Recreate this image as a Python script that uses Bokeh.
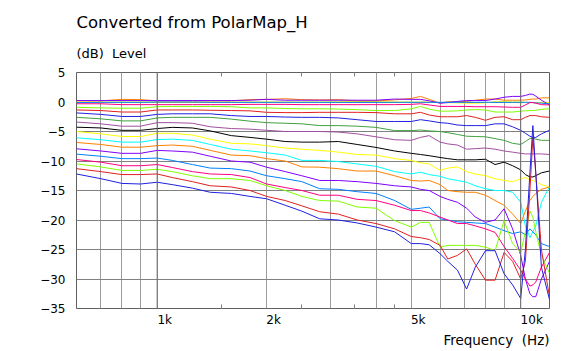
from bokeh.plotting import figure
from bokeh.models import FixedTicker, Span, LogAxis, Title
from bokeh.embed import file_html
from bokeh.resources import INLINE

# ---------------- data ----------------
freq_hz = [600, 700, 800, 900, 1000, 1100, 1250, 1400, 1600, 1800, 2000, 2250, 2500,
           2800, 3150, 3550, 4000, 4500, 5000, 5300, 5600, 6000, 6300, 6700, 7100, 7500,
           8000, 8500, 9000, 9500, 10000, 10300, 10600, 10800, 11000, 11400, 12000]

yellow_top = [0.0, 0.0, 0.0, 0.0, 0.0, 0.0, 0.0, 0.0, 0.0, 0.0, 0.0, 0.0, 0.0, 0.0, 0.05, 0.1, 0.05, 0.0, 0.0, 0.0, 0.0,
              -0.1, -0.1, -0.15, -0.2, -0.2, -0.15, 0.05, 0.05, 0.0, 0.0, -0.1, -0.1, -0.1, -0.1, -0.1, -0.1]
orange_a = [0.2, 0.2, 0.45, 0.4, 0.2, 0.2, 0.2, 0.2, 0.2, 0.4, 0.45, 0.55, 0.4, 0.35, 0.4, 0.2, 0.2, 0.35, 0.6, 0.95,
            0.45, -0.2, 0.05, 0.05, 0.1, 0.3, 0.5, 0.5, 0.3, 0.3, 0.3, 0.35, 0.45, 0.5, 0.5, 0.7, 0.7]
purple_a = [0.25, 0.25, 0.25, 0.25, 0.25, 0.25, 0.25, 0.25, 0.25, 0.3, 0.45, 0.3, 0.3, 0.3, 0.3, 0.3, 0.3, 0.5, 0.45, 0.45,
            0.2, -0.2, -0.1, 0.1, 0.25, 0.25, 0.25, 0.5, 0.8, 0.95, 0.95, 1.1, 1.35, 1.3, 1.0, 0.3, -0.5]
dodger_a = [-0.1, -0.05, -0.05, -0.05, 0.0, 0.0, 0.0, -0.05, -0.05, -0.05, -0.05, -0.05, -0.05, -0.05, -0.05, -0.05,
            -0.05, -0.05, -0.05, -0.05, -0.05, -0.05, -0.05, -0.05, -0.05, -0.05, -0.05, -0.05, -0.05, -0.05, -0.05,
            -0.05, -0.05, -0.1, -0.15, -0.2, -0.3]
pink_a = [-0.3, -0.3, -0.45, -0.45, -0.45, -0.45, -0.45, -0.45, -0.45, -0.4, -0.4, -0.4, -0.45, -0.45, -0.45, -0.45,
          -0.45, -0.45, -0.4, -0.3, -0.5, -0.75, -0.75, -0.75, -0.75, -0.8, -0.8, -0.8, -0.85, -0.9, -0.9, -0.5, -0.1,
          -0.1, -0.2, -0.45, -0.5]
lgreen_a = [-0.9, -1.0, -1.05, -1.05, -0.8, -0.75, -0.75, -0.75, -0.8, -1.0, -1.0, -1.1, -1.15, -1.15, -1.2, -1.3,
            -1.45, -1.45, -1.15, -0.75, -1.2, -1.55, -1.55, -1.5, -1.35, -1.3, -1.35, -1.7, -1.7, -1.7, -1.55, -1.5,
            -1.45, -1.45, -1.4, -1.25, -1.15]
red_a = [-1.35, -1.45, -1.7, -1.7, -1.35, -1.35, -1.35, -1.4, -1.45, -1.5, -1.75, -1.8, -1.8, -1.75, -1.75, -1.75,
         -1.8, -2.0, -2.0, -1.75, -2.2, -2.5, -2.5, -2.5, -2.3, -2.6, -3.1, -2.6, -2.5, -3.0, -3.0, -2.6, -2.3, -2.3,
         -2.3, -2.5, -2.6]
blue_a = [-1.85, -2.1, -2.45, -2.45, -2.1, -2.0, -2.0, -2.0, -2.3, -2.45, -2.45, -2.55, -2.6, -2.6, -2.7, -3.0, -3.3,
          -3.3, -3.3, -3.0, -3.2, -3.5, -3.6, -3.9, -4.0, -4.0, -4.0, -3.7, -3.7, -4.2, -4.8, -5.3, -5.8, -6.0, -6.0,
          -5.4, -4.8]
green_a = [-2.6, -2.85, -3.2, -3.2, -2.7, -2.6, -2.6, -2.6, -2.9, -3.25, -3.5, -3.6, -3.7, -4.0, -4.0, -4.1, -4.3,
           -4.85, -4.85, -4.75, -4.9, -5.0, -5.2, -5.5, -5.8, -5.85, -5.9, -6.2, -6.5, -7.0, -7.2, -6.7, -6.2, -6.1,
           -6.3, -6.5, -6.5]
orchid_a = [-3.4, -3.7, -4.1, -4.1, -3.5, -3.5, -3.6, -4.2, -4.5, -4.6, -4.8, -5.0, -5.0, -5.0, -5.1, -5.4, -5.9,
            -6.4, -6.5, -6.0, -5.7, -6.8, -7.1, -7.3, -8.0, -7.9, -7.8, -8.0, -8.3, -8.5, -8.7, -8.8, -8.8, -8.8,
            -8.8, -8.8, -8.9]
black_a = [-4.27, -4.4, -4.8, -4.8, -4.5, -4.3, -4.4, -4.9, -5.7, -6.0, -6.3, -6.7, -6.8, -6.8, -6.7, -7.2, -7.7,
           -8.3, -8.7, -8.9, -9.1, -9.4, -9.6, -9.8, -9.8, -9.8, -9.7, -10.6, -10.2, -10.8, -11.5, -12.3, -12.7,
           -12.7, -12.5, -12.0, -11.7]
yellow_b = [-5.0, -5.4, -5.85, -5.85, -5.3, -5.3, -5.6, -6.3, -7.0, -7.1, -7.4, -7.8, -8.0, -8.2, -8.5, -8.9, -9.0,
            -9.6, -9.9, -10.3, -10.5, -11.6, -11.2, -11.0, -11.8, -12.2, -12.5, -13.0, -13.3, -13.5, -13.0, -12.8,
            -13.2, -13.3, -13.5, -14.0, -14.4]
cyan_b = [-6.07, -6.4, -6.8, -6.8, -6.36, -6.3, -6.5, -7.2, -8.0, -8.3, -8.6, -9.0, -9.9, -9.9, -10.1, -10.5, -10.9,
          -11.8, -12.2, -11.9, -12.3, -12.6, -13.0, -13.3, -13.6, -14.2, -14.7, -15.0, -15.0, -15.3, -17.0, -21.0,
          -23.0, -22.0, -21.0, -17.0, -14.4]
orange_b = [-6.86, -7.2, -7.66, -7.66, -7.4, -7.3, -7.5, -8.2, -9.0, -9.1, -9.6, -10.0, -11.0, -11.05, -11.3, -11.7,
            -11.7, -12.5, -13.3, -13.4, -13.3, -14.0, -15.0, -15.2, -15.3, -15.3, -15.8, -16.7, -17.5, -19.0, -20.6,
            -18.5, -16.7, -16.0, -15.5, -14.8, -14.4]
purple_b = [-7.93, -8.3, -8.7, -8.7, -8.2, -8.3, -8.5, -9.2, -10.0, -10.2, -11.05, -11.8, -12.5, -13.3, -13.3, -13.5,
            -13.8, -14.2, -14.4, -14.8, -15.0, -16.0, -16.5, -17.0, -18.0, -19.5, -20.4, -20.0, -18.1, -21.5, -26.0,
            -30.0, -32.5, -33.0, -33.0, -30.0, -27.0]
dodger_b = [-8.84, -9.2, -9.6, -9.6, -9.5, -9.9, -10.6, -11.2, -11.3, -11.7, -12.5, -13.0, -13.5, -14.7, -14.8, -15.2,
            -15.5, -16.7, -18.2, -18.0, -17.8, -19.8, -20.0, -20.3, -20.4, -20.5, -20.6, -21.2, -21.8, -22.3, -22.0,
            -22.5, -21.5, -22.0, -22.5, -24.0, -24.5]
pink_b = [-9.75, -10.2, -10.8, -10.8, -10.6, -11.1, -11.8, -12.2, -12.3, -12.8, -13.9, -14.5, -15.0, -15.8, -15.8,
          -16.5, -16.7, -17.5, -18.4, -18.4, -18.8, -19.5, -20.0, -20.6, -20.6, -21.0, -21.5, -22.1, -24.5, -26.5,
          -28.5, -30.0, -31.2, -31.0, -30.5, -28.0, -25.5]
lgreen_b = [-10.5, -11.0, -11.6, -11.6, -11.4, -11.8, -12.5, -13.0, -13.0, -13.3, -14.2, -15.0, -16.0, -16.7, -16.8,
            -17.8, -18.0, -20.1, -21.2, -20.4, -20.4, -24.6, -24.3, -24.3, -24.3, -24.3, -24.6, -25.2, -20.1, -24.0,
            -25.5, -22.0, -18.5, -19.5, -22.0, -26.0, -29.0]
red_b = [-11.3, -11.8, -12.3, -12.3, -12.2, -12.8, -13.5, -14.2, -14.4, -15.0, -16.0, -16.7, -17.6, -18.6, -19.0,
         -20.0, -20.6, -21.5, -22.8, -23.0, -23.3, -24.3, -26.6, -26.0, -24.9, -27.5, -30.2, -30.2, -25.5, -27.0,
         -30.0, -27.0, -15.0, -6.0, -12.0, -25.0, -33.0]
blue_b = [-12.2, -13.0, -13.8, -13.9, -13.6, -14.0, -14.6, -15.3, -15.5, -16.0, -16.4, -17.5, -18.5, -19.8, -20.0,
          -20.5, -21.2, -22.0, -24.0, -24.0, -24.2, -25.7, -27.0, -28.5, -31.7, -28.0, -25.2, -25.2, -29.1, -31.0,
          -33.3, -25.0, -12.0, -4.0, -12.0, -28.0, -33.5]

series = [
    (yellow_top, "#ffff00"), (orange_a, "#ff8000"), (purple_a, "#8000ff"), (dodger_a, "#0080ff"),
    (pink_a, "#ff0080"), (lgreen_a, "#80ff00"), (red_a, "#e02020"), (blue_a, "#2020e0"),
    (green_a, "#40a040"), (orchid_a, "#a050a0"), (black_a, "#000000"), (yellow_b, "#ffff00"),
    (cyan_b, "#00ffff"), (orange_b, "#ff8000"), (purple_b, "#8000ff"), (dodger_b, "#0080ff"),
    (pink_b, "#ff0080"), (lgreen_b, "#80ff00"), (red_b, "#e02020"), (blue_b, "#2020e0"),
]

x_tick_vals = [1000, 2000, 5000, 10000]
x_tick_labels = ["1k", "2k", "5k", "10k"]
x_grid_vals = [700, 800, 900, 1000, 2000, 3000, 4000, 5000, 6000, 7000, 8000, 9000, 10000]
x_minor_vals = [1500, 2500, 3500, 4500]
y_tick_vals = [5, 0, -5, -10, -15, -20, -25, -30, -35]

title_text = "Converted from PolarMap_H"
y_title_text = "(dB)\u00a0\u00a0Level"
x_title_text = "Frequency\u00a0\u00a0(Hz)"

# ---------------- figure ----------------
X0, X1 = 600, 12000
Y0, Y1 = -35, 5
FONT = "DejaVu Sans"
FRAME_W = 578 - 76 - 29
PX_PER_DEC = FRAME_W / 1.30103  # log10(12000/600)

p = figure(width=578, height=351, x_axis_type="log", x_range=(X0, X1), y_range=(Y0, Y1),
           output_backend="svg", toolbar_location=None,
           min_border_left=76, min_border_right=29, min_border_top=72, min_border_bottom=43)
p.background_fill_color = "white"
p.border_fill_color = "white"
p.outline_line_color = "#606060"
p.outline_line_width = 1

# tick labels of the reference start at the tick: centre them half a label to the right
label_half_w = {"1k": 7.5, "2k": 7.0, "5k": 7.0, "10k": 11.0}
shifted = [int(round(f * 10 ** (label_half_w[l] / PX_PER_DEC))) for f, l in zip(x_tick_vals, x_tick_labels)]

xa = p.xaxis[0]
xa.ticker = FixedTicker(ticks=shifted, minor_ticks=x_minor_vals)
xa.major_label_overrides = {s: l for s, l in zip(shifted, x_tick_labels)}
xa.major_label_text_font = FONT
xa.major_label_text_font_size = "12px"
xa.major_label_text_color = "black"
xa.major_label_standoff = 4
xa.major_tick_in = 0
xa.major_tick_out = 0
xa.minor_tick_in = 4
xa.minor_tick_out = 0
xa.minor_tick_line_color = "#808080"
xa.axis_line_color = None

top = LogAxis(ticker=FixedTicker(ticks=[], minor_ticks=x_minor_vals))
top.major_tick_in = 0
top.major_tick_out = 0
top.minor_tick_in = 4
top.minor_tick_out = 0
top.minor_tick_line_color = "#808080"
top.axis_line_color = None
p.add_layout(top, "above")

ya = p.yaxis[0]
ya.ticker = FixedTicker(ticks=y_tick_vals)
ya.major_tick_in = 0
ya.major_tick_out = 0
ya.minor_tick_in = 0
ya.minor_tick_out = 0
ya.axis_line_color = None
ya.major_label_standoff = 11
ya.major_label_text_font = FONT
ya.major_label_text_font_size = "12px"
ya.major_label_text_color = "black"

p.xgrid.ticker = FixedTicker(ticks=x_grid_vals)
p.xgrid.grid_line_color = "#9c9c9c"
p.ygrid.ticker = FixedTicker(ticks=y_tick_vals)
p.ygrid.grid_line_color = "#808080"
for f in (1000, 10000):
    p.add_layout(Span(location=f, dimension="height", line_color="#707070", line_width=1))

for ys, col in series:
    p.line(freq_hz, ys, line_color=col, line_width=1)

# ---------------- texts ----------------
p.add_layout(Title(text=y_title_text, align="left", text_font=FONT, text_font_size="13px",
                   text_font_style="normal", text_color="black", standoff=24), "above")
p.add_layout(Title(text=title_text, align="left", text_font=FONT, text_font_size="16.5px",
                   text_font_style="normal", text_color="black", standoff=0), "above")
p.add_layout(Title(text=x_title_text, align="right", text_font=FONT, text_font_size="13.5px",
                   text_font_style="normal", text_color="black", standoff=0, offset=0), "below")

open("out.html", "w").write(file_html(p, INLINE))
